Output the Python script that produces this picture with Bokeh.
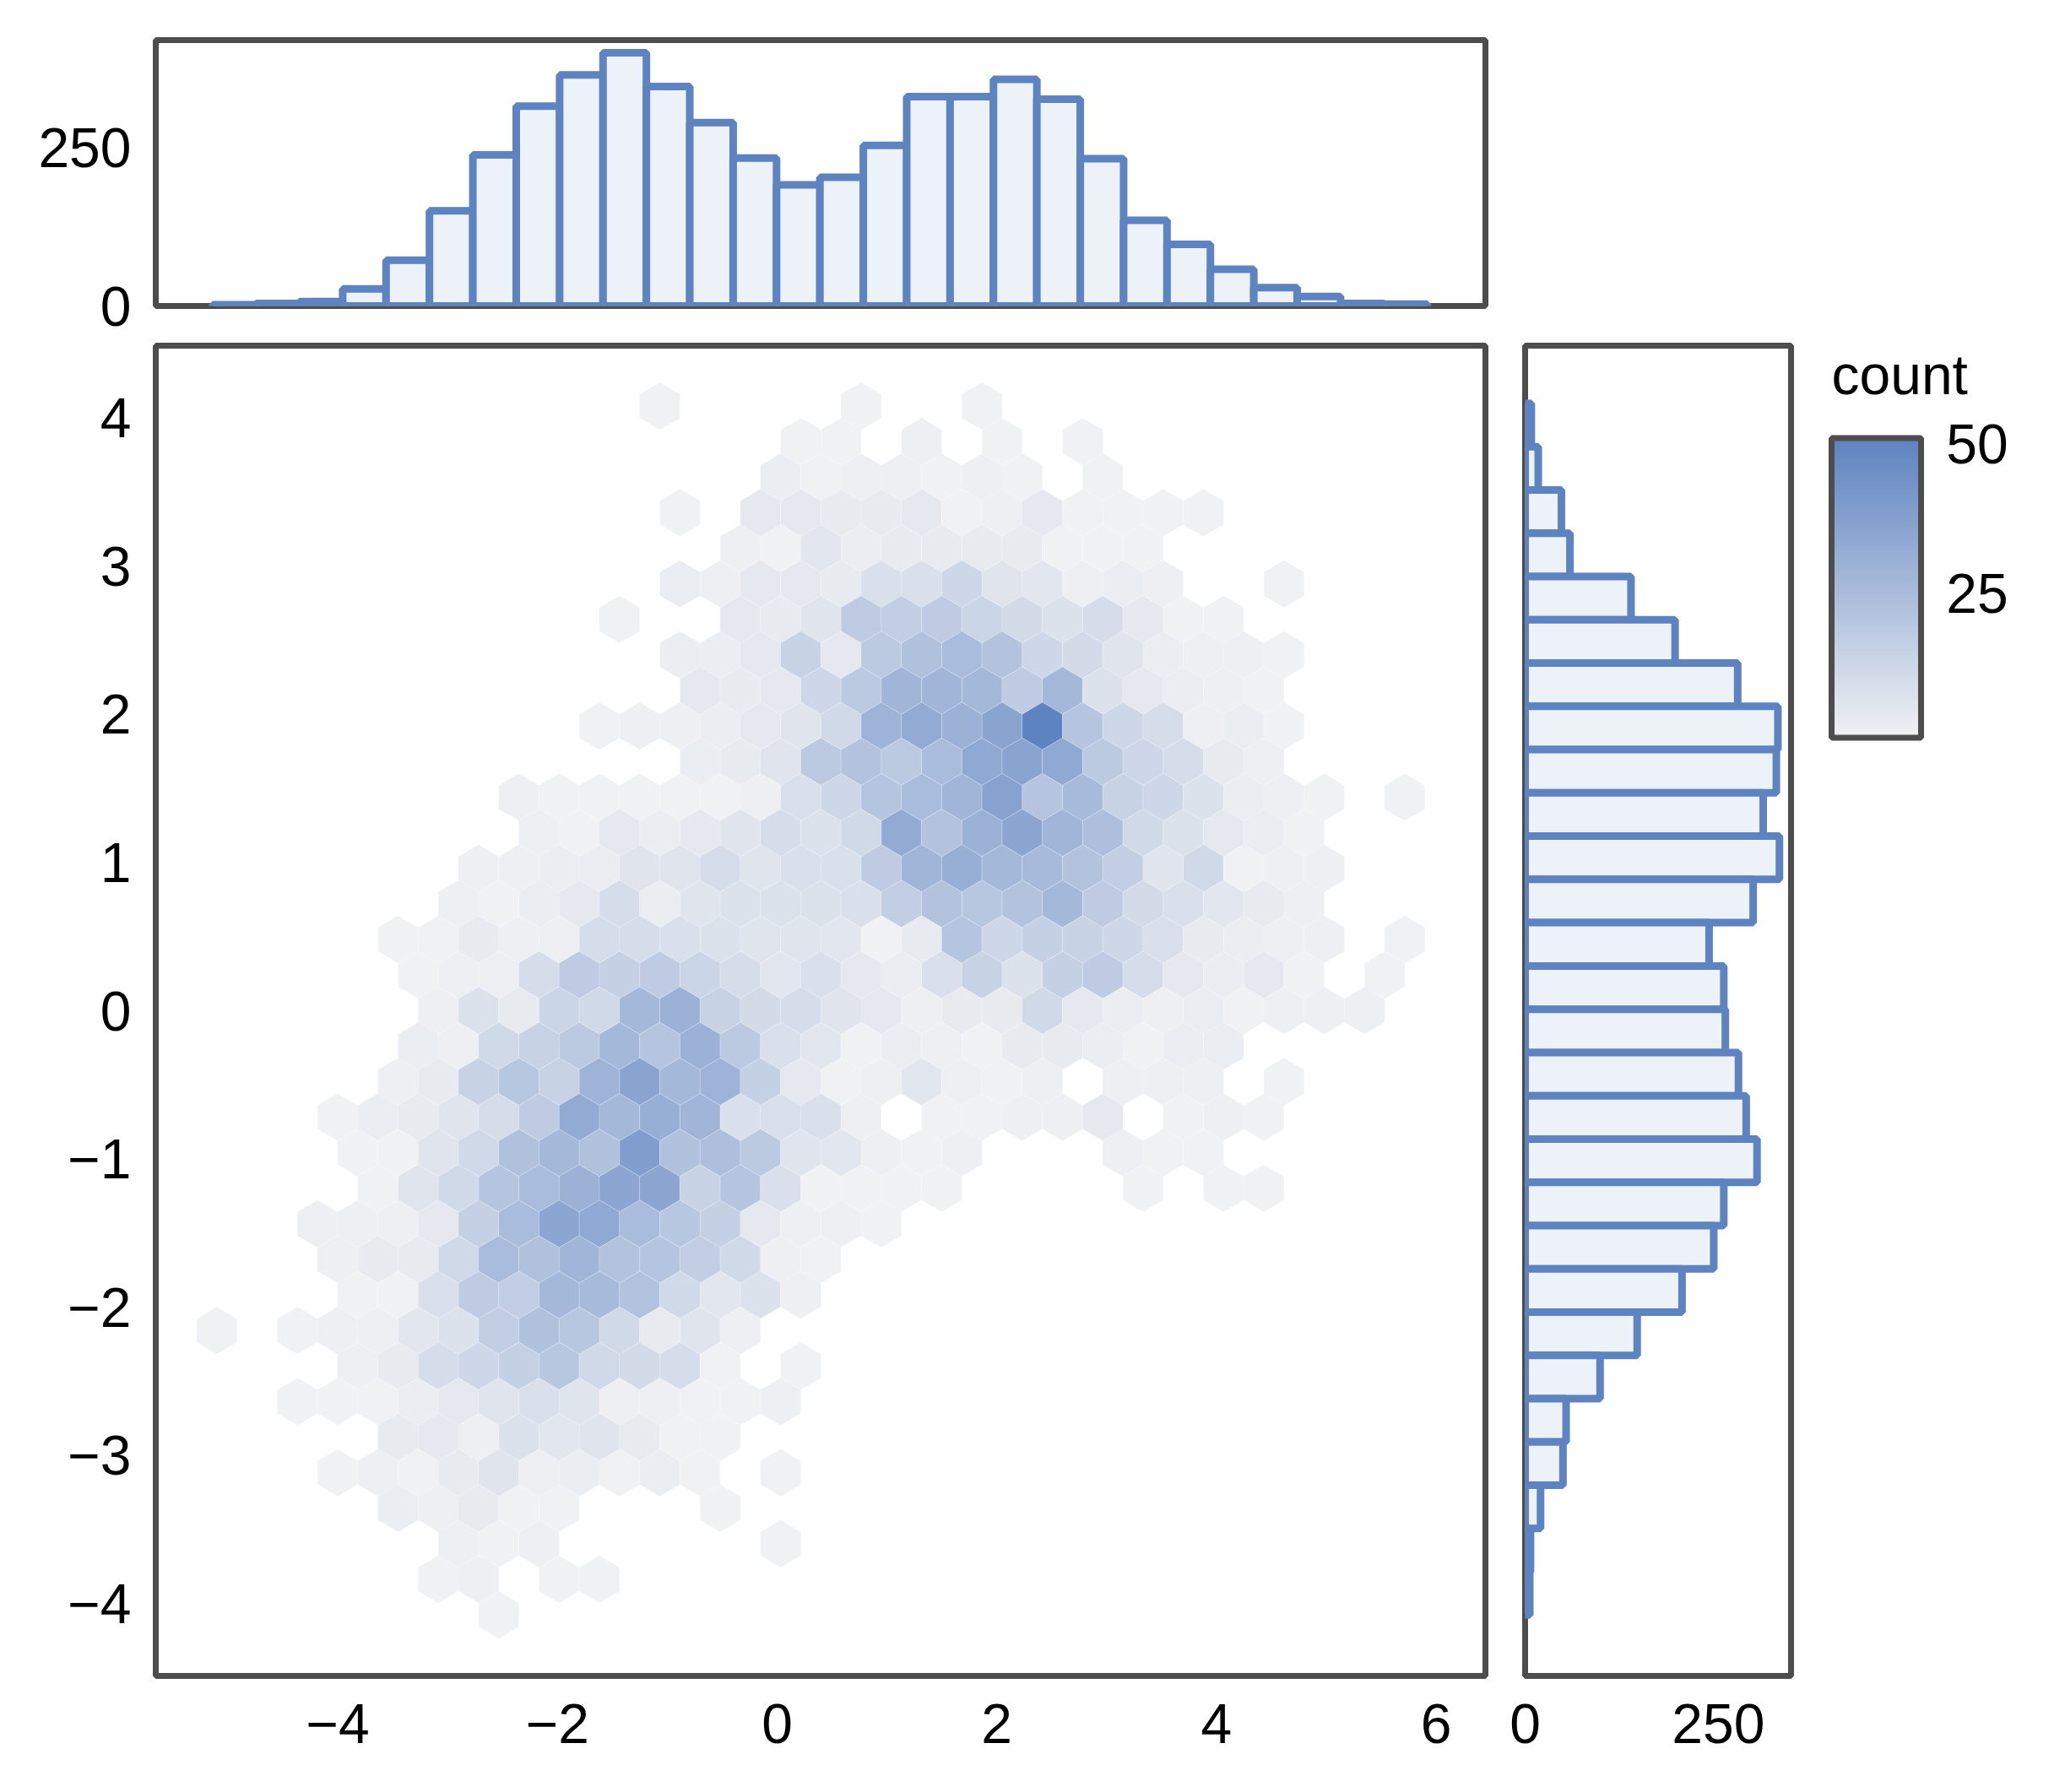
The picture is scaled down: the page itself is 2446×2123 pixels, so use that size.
import numpy as np
from bokeh.core.properties import value
from bokeh.embed import file_html
from bokeh.resources import INLINE
from bokeh.layouts import column, row
from bokeh.models import ColumnDataSource, FixedTicker, LinearColorMapper, Range1d
from bokeh.plotting import figure

# ---- hexbin grid: one pair of lists per hexagon row (col index, count)
r00_k = [0, 10, 16]
r00_c = [1, 1, 1]
r01_k = [7, 9, 13, 17, 21]
r01_c = [1, 1, 2, 1, 1]
r02_k = [6, 8, 10, 12, 14, 16, 18, 22]
r02_c = [3, 1, 2, 2, 1, 2, 1, 1]
r03_k = [1, 5, 7, 9, 11, 13, 15, 17, 19, 21, 23, 25, 27]
r03_c = [1, 5, 5, 4, 4, 5, 1, 2, 5, 1, 1, 1, 1]
r04_k = [4, 6, 8, 10, 12, 14, 16, 18, 20, 22, 24]
r04_c = [2, 1, 6, 3, 4, 4, 4, 4, 1, 1, 1]
r05_k = [1, 3, 5, 7, 9, 11, 13, 15, 17, 19, 21, 23, 25, 31]
r05_c = [3, 2, 5, 5, 4, 9, 9, 13, 7, 6, 2, 3, 2, 1]
r06_k = [-2, 4, 6, 8, 10, 12, 14, 16, 18, 20, 22, 24, 26, 28]
r06_c = [1, 5, 4, 7, 18, 17, 18, 14, 11, 8, 10, 5, 1, 1]
r07_k = [1, 3, 5, 7, 9, 11, 13, 15, 17, 19, 21, 23, 25, 27, 29, 31]
r07_c = [3, 3, 5, 15, 5, 19, 23, 25, 22, 13, 11, 7, 3, 2, 2, 1]
r08_k = [2, 4, 6, 8, 10, 12, 14, 16, 18, 20, 22, 24, 26, 28, 30]
r08_c = [5, 4, 5, 13, 19, 28, 28, 27, 18, 27, 8, 5, 3, 2, 1]
r09_k = [-3, -1, 1, 3, 5, 7, 9, 11, 13, 15, 17, 19, 21, 23, 25, 27, 29, 31]
r09_c = [1, 2, 2, 3, 5, 7, 12, 29, 33, 30, 36, 51, 21, 13, 10, 2, 3, 1]
r10_k = [2, 4, 6, 8, 10, 12, 14, 16, 18, 20, 22, 24, 26, 28, 30]
r10_c = [3, 4, 7, 19, 22, 19, 25, 34, 36, 34, 19, 13, 10, 4, 2]
r11_k = [-7, -5, -3, -1, 1, 3, 5, 7, 9, 11, 13, 15, 17, 19, 21, 23, 25, 27, 29, 31, 33, 37]
r11_c = [2, 1, 1, 1, 1, 1, 2, 9, 13, 21, 25, 28, 37, 21, 26, 15, 13, 8, 3, 2, 1, 1]
r12_k = [-6, -4, -2, 0, 2, 4, 6, 8, 10, 12, 14, 16, 18, 20, 22, 24, 26, 28, 30, 32]
r12_c = [2, 1, 5, 3, 5, 7, 10, 8, 12, 33, 22, 30, 35, 28, 24, 12, 8, 5, 3, 1]
r13_k = [-9, -7, -5, -3, -1, 1, 3, 5, 7, 9, 11, 13, 15, 17, 19, 21, 23, 25, 27, 29, 31, 33]
r13_c = [2, 2, 3, 3, 7, 7, 10, 7, 9, 9, 18, 28, 31, 27, 26, 22, 17, 7, 12, 1, 2, 2]
r14_k = [-10, -8, -6, -4, -2, 0, 2, 4, 6, 8, 10, 12, 14, 16, 18, 20, 22, 24, 26, 28, 30, 32]
r14_c = [2, 1, 3, 5, 10, 3, 7, 8, 8, 8, 9, 17, 22, 20, 22, 27, 18, 11, 9, 6, 4, 2]
r15_k = [-13, -11, -9, -7, -5, -3, -1, 1, 3, 5, 7, 9, 11, 13, 15, 17, 19, 21, 23, 25, 27, 29, 31, 33, 37]
r15_c = [1, 1, 4, 2, 2, 10, 10, 9, 8, 7, 7, 6, 1, 4, 21, 13, 16, 15, 13, 9, 4, 3, 2, 2, 1]
r16_k = [-12, -10, -8, -6, -4, -2, 0, 2, 4, 6, 8, 10, 12, 14, 16, 18, 20, 22, 24, 26, 28, 30, 32, 36]
r16_c = [1, 2, 2, 10, 18, 16, 18, 14, 10, 6, 9, 5, 3, 9, 15, 8, 16, 18, 10, 5, 3, 5, 1, 1]
r17_k = [-11, -9, -7, -5, -3, -1, 1, 3, 5, 7, 9, 11, 13, 15, 17, 19, 21, 23, 25, 27, 29, 31, 33, 35]
r17_c = [2, 8, 4, 14, 12, 27, 30, 15, 11, 10, 7, 5, 2, 4, 4, 12, 5, 3, 2, 3, 1, 2, 2, 2]
r18_k = [-12, -10, -8, -6, -4, -2, 0, 2, 4, 6, 8, 10, 12, 14, 16, 18, 20, 22, 24, 26, 28]
r18_c = [3, 2, 12, 15, 19, 27, 21, 30, 19, 9, 6, 1, 3, 2, 1, 4, 4, 3, 1, 3, 3]
r19_k = [-13, -11, -9, -7, -5, -3, -1, 1, 3, 5, 7, 9, 11, 13, 15, 17, 19, 23, 25, 27, 31]
r19_c = [2, 4, 15, 20, 15, 29, 36, 27, 29, 16, 5, 1, 2, 6, 2, 1, 2, 2, 2, 2, 1]
r20_k = [-16, -14, -12, -10, -8, -6, -4, -2, 0, 2, 4, 6, 8, 10, 14, 16, 18, 20, 22, 26, 28, 30]
r20_c = [1, 3, 4, 7, 10, 18, 33, 27, 31, 28, 9, 9, 9, 2, 1, 1, 2, 2, 5, 1, 2, 1]
r21_k = [-15, -13, -11, -9, -7, -5, -3, -1, 1, 3, 5, 7, 9, 11, 13, 15, 23, 25, 27]
r21_c = [1, 1, 7, 12, 23, 27, 23, 39, 23, 24, 19, 7, 6, 2, 1, 2, 2, 1, 1]
r22_k = [-14, -12, -10, -8, -6, -4, -2, 0, 2, 4, 6, 8, 10, 12, 14, 24, 28, 30]
r22_c = [1, 7, 12, 21, 25, 30, 35, 35, 15, 21, 9, 1, 1, 1, 1, 1, 1, 1]
r23_k = [-17, -15, -13, -11, -9, -7, -5, -3, -1, 1, 3, 5, 7, 9, 11]
r23_c = [2, 2, 2, 5, 16, 25, 35, 34, 25, 20, 16, 5, 2, 2, 1]
r24_k = [-16, -14, -12, -10, -8, -6, -4, -2, 0, 2, 4, 6, 8]
r24_c = [2, 4, 4, 12, 25, 23, 28, 22, 21, 17, 12, 2, 1]
r25_k = [-15, -13, -11, -9, -7, -5, -3, -1, 1, 3, 5, 7]
r25_c = [1, 1, 9, 18, 17, 27, 26, 22, 12, 6, 8, 2]
r26_k = [-22, -18, -16, -14, -12, -10, -8, -6, -4, -2, 0, 2, 4]
r26_c = [1, 1, 2, 2, 6, 8, 17, 23, 20, 12, 4, 7, 2]
r27_k = [-15, -13, -11, -9, -7, -5, -3, -1, 1, 3, 7]
r27_c = [2, 4, 10, 13, 16, 20, 12, 11, 10, 1, 1]
r28_k = [-18, -16, -14, -12, -10, -8, -6, -4, -2, 0, 2, 4, 6]
r28_c = [1, 1, 1, 3, 5, 7, 9, 7, 2, 2, 1, 1, 2]
r29_k = [-13, -11, -9, -7, -5, -3, -1, 1, 3]
r29_c = [4, 5, 2, 8, 6, 7, 4, 1, 1]
r30_k = [-16, -14, -12, -10, -8, -6, -4, -2, 0, 2, 6]
r30_c = [1, 2, 1, 4, 7, 2, 3, 1, 3, 1, 1]
r31_k = [-13, -11, -9, -7, -5, 3]
r31_c = [3, 2, 4, 1, 1, 1]
r32_k = [-10, -8, -6, 6]
r32_c = [2, 1, 2, 1]
r33_k = [-11, -9, -5, -3]
r33_c = [1, 2, 1, 1]
r34_k = [-8]
r34_c = [1]

# ---- marginal histograms
hist_x_counts = [2, 4, 7, 27, 72, 150, 238, 315, 364, 399, 346, 289, 233, 191, 203,
                 253, 330, 330, 357, 326, 232, 135, 97, 58, 29, 15, 4, 3]
hist_y_counts = [8, 17, 47, 58, 137, 194, 275, 327, 325, 308, 329, 295, 238, 257,
                 259, 276, 286, 300, 257, 244, 203, 145, 97, 53, 49, 20, 7, 6]
x_ticks = [-4, -2, 0, 2, 4, 6]
y_ticks = [-4, -3, -2, -1, 0, 1, 2, 3, 4]
hist_ticks = [0, 250]
cbar_ticks = [25, 50]

FRAME = "#4d4d4d"
BLUE = "#5e83c1"
LIGHT = "#edf2f9"
FONT = "Liberation Sans"
FS = "66px"

k_rows = [r00_k, r01_k, r02_k, r03_k, r04_k, r05_k, r06_k, r07_k, r08_k, r09_k, r10_k, r11_k,
          r12_k, r13_k, r14_k, r15_k, r16_k, r17_k, r18_k, r19_k, r20_k, r21_k, r22_k, r23_k,
          r24_k, r25_k, r26_k, r27_k, r28_k, r29_k, r30_k, r31_k, r32_k, r33_k, r34_k]
c_rows = [r00_c, r01_c, r02_c, r03_c, r04_c, r05_c, r06_c, r07_c, r08_c, r09_c, r10_c, r11_c,
          r12_c, r13_c, r14_c, r15_c, r16_c, r17_c, r18_c, r19_c, r20_c, r21_c, r22_c, r23_c,
          r24_c, r25_c, r26_c, r27_c, r28_c, r29_c, r30_c, r31_c, r32_c, r33_c, r34_c]

XR = (-5.657, 6.449)
YR = (-4.49, 4.49)
hx0, hdx, hy0, hdy = -1.068, 0.18332, 4.082, 0.24
R = hdy / 1.5

xs, ys, cs = [], [], []
for i, (ks, cnt) in enumerate(zip(k_rows, c_rows)):
    for k, c in zip(ks, cnt):
        cx, cy = hx0 + hdx * k, hy0 - hdy * i
        xs.append([cx, cx + hdx, cx + hdx, cx, cx - hdx, cx - hdx])
        ys.append([cy + R, cy + R / 2, cy - R / 2, cy - R, cy - R / 2, cy + R / 2])
        cs.append(c)

c0 = np.array([0xf0, 0xf1, 0xf3])
c1 = np.array([0x5e, 0x83, 0xc1])
palette = ["#%02x%02x%02x" % tuple(int(round(v)) for v in c0 + (c1 - c0) * t / 255) for t in range(256)]
mapper = LinearColorMapper(palette=palette, low=1, high=51)


def style(p):
    p.outline_line_color = FRAME
    p.outline_line_width = 7
    p.grid.visible = False
    p.background_fill_color = "white"
    p.border_fill_color = None
    for ax in list(p.xaxis) + list(p.yaxis):
        ax.axis_line_color = None
        ax.major_tick_line_color = None
        ax.minor_tick_line_color = None
        ax.major_label_text_font = FONT
        ax.major_label_text_font_size = FS
        ax.major_label_text_color = "black"


# top histogram
top = figure(width=1783, height=405, output_backend="svg", toolbar_location=None,
             x_range=Range1d(*XR), y_range=Range1d(0, 419), x_axis_type=None,
             min_border_left=184, min_border_right=24, min_border_top=47, min_border_bottom=43)
edges_x = -5.14 + 0.395 * np.arange(len(hist_x_counts) + 1)
top.quad(left=edges_x[:-1], right=edges_x[1:], bottom=0, top=hist_x_counts,
         fill_color=LIGHT, line_color=BLUE, line_width=9)
top.yaxis.ticker = FixedTicker(ticks=hist_ticks)
style(top)
top.yaxis.major_label_standoff = 23

# main hexbin
main = figure(width=1783, height=1695, output_backend="svg", toolbar_location=None,
              x_range=Range1d(*XR), y_range=Range1d(*YR),
              min_border_left=184, min_border_right=24, min_border_top=4, min_border_bottom=115)
main.patches(xs="xs", ys="ys", source=ColumnDataSource(dict(xs=xs, ys=ys, c=cs)),
             fill_color={"field": "c", "transform": mapper},
             line_color="white", line_alpha=0.2, line_width=1)
main.xaxis.ticker = FixedTicker(ticks=x_ticks)
main.yaxis.ticker = FixedTicker(ticks=y_ticks)
main.xaxis.major_label_overrides = {t: str(t).replace("-", "\u2212") for t in x_ticks}
main.yaxis.major_label_overrides = {t: str(t).replace("-", "\u2212") for t in y_ticks}
style(main)
main.xaxis.major_label_standoff = 27
main.yaxis.major_label_standoff = 23

# right histogram
right = figure(width=367, height=1695, output_backend="svg", toolbar_location=None,
               x_range=Range1d(0, 344), y_range=Range1d(*YR), y_axis_type=None,
               min_border_left=23, min_border_right=29, min_border_top=4, min_border_bottom=115)
edges_y = 4.10 - 0.2921 * np.arange(len(hist_y_counts) + 1)
right.quad(left=0, right=hist_y_counts, top=edges_y[:-1], bottom=edges_y[1:],
           fill_color=LIGHT, line_color=BLUE, line_width=9)
right.xaxis.ticker = FixedTicker(ticks=hist_ticks)
style(right)
right.xaxis.major_label_standoff = 27

# colour bar: shares the row's frame height; its y scale is the count scale
cb_fig = figure(width=280, height=1695, output_backend="svg", toolbar_location=None,
                x_range=Range1d(-0.0849, 2.462), y_range=Range1d(-156.08, 66.48),
                x_axis_type=None, y_axis_type=None,
                min_border_left=10, min_border_right=0, min_border_top=4, min_border_bottom=115)
gradient = np.linspace(1, 51, 256).reshape(-1, 1)
cb_fig.image(image=[gradient], x=0, y=0.9, dw=1, dh=50.1, color_mapper=mapper)
cb_fig.quad(left=0, right=1, bottom=0.9, top=51, fill_color=None, line_color=FRAME, line_width=7)
cb_fig.text(x=[1.28] * len(cbar_ticks), y=cbar_ticks, text=[str(t) for t in cbar_ticks],
            text_font=value(FONT), text_font_size=value(FS), text_color="black",
            text_baseline="middle", text_align="left")
cb_fig.text(x=[0.0], y=[61.6], text=["count"], text_font=value(FONT), text_font_size=value(FS),
            text_color="black", text_baseline="alphabetic", text_align="left")
style(cb_fig)
cb_fig.outline_line_color = None

page = column(top, row(main, right, cb_fig, spacing=0), spacing=0)
open("out.html", "w").write(file_html(page, INLINE))
